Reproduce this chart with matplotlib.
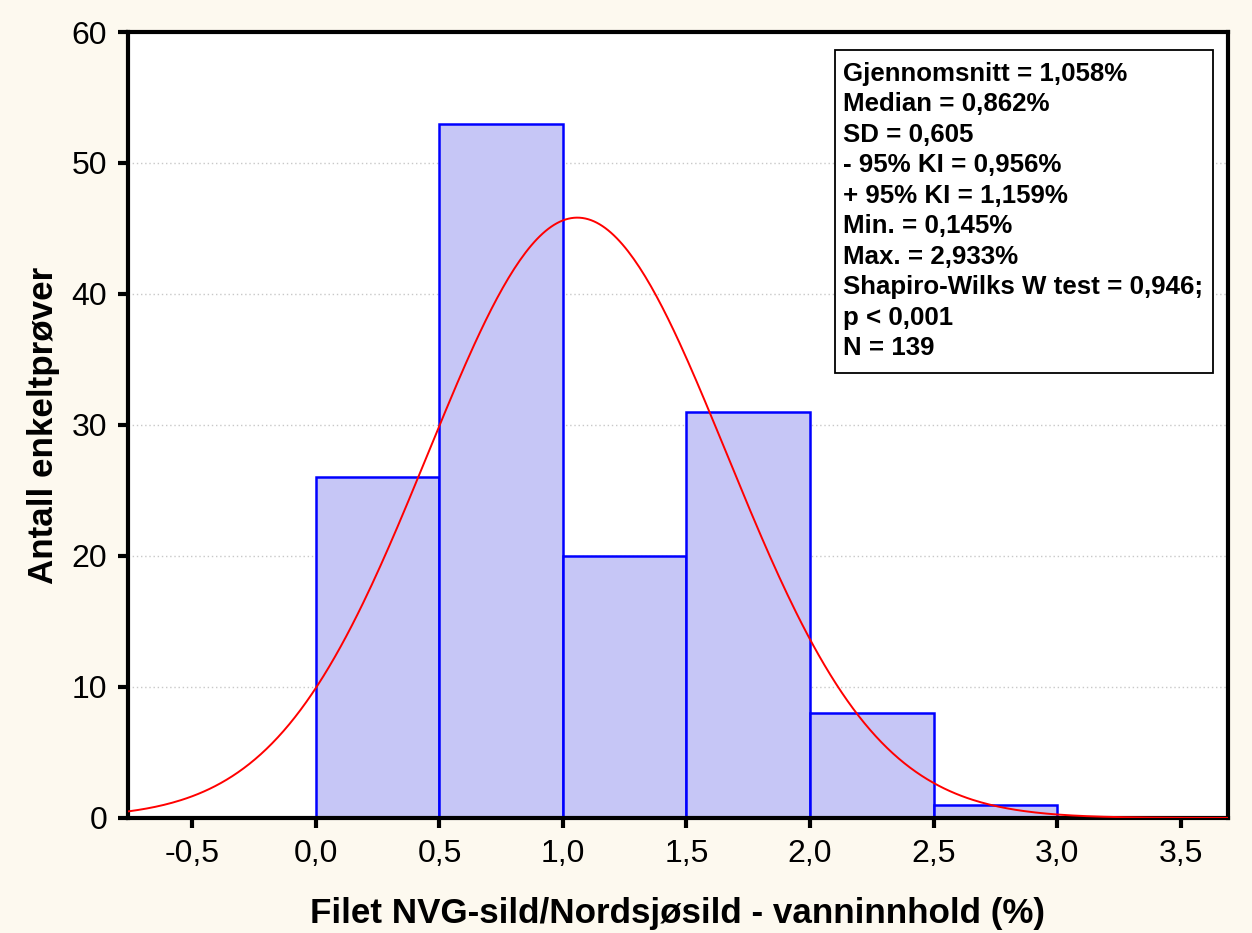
import numpy as np
import matplotlib.pyplot as plt
from matplotlib.patches import Rectangle

plt.rcParams['font.family'] = ['Liberation Sans', 'DejaVu Sans']

# histogram bins (vanninnhold %) and counts
bin_edges = [0.0, 0.5, 1.0, 1.5, 2.0, 2.5, 3.0]
counts = [26, 53, 20, 31, 8, 1]

# summary stats shown in the box
mean = 1.058
sd = 0.605
n = 139
stats_lines = [
    "Gjennomsnitt = 1,058%",
    "Median = 0,862%",
    "SD = 0,605",
    "- 95% KI = 0,956%",
    "+ 95% KI = 1,159%",
    "Min. = 0,145%",
    "Max. = 2,933%",
    "Shapiro-Wilks W test = 0,946;",
    "p < 0,001",
    "N = 139",
]
xticks = [-0.5, 0.0, 0.5, 1.0, 1.5, 2.0, 2.5, 3.0, 3.5]
yticks = [0, 10, 20, 30, 40, 50, 60]

fig = plt.figure(figsize=(12.52, 9.33), dpi=100, facecolor='#fdf9ef')
ax = fig.add_axes([0.1022, 0.1233, 0.8786, 0.8424])
ax.set_facecolor('white')

widths = np.diff(bin_edges)
ax.bar(bin_edges[:-1], counts, width=widths, align='edge',
       facecolor='#c6c6f6', edgecolor='#0000ff', linewidth=1.8, zorder=2)

# fitted normal curve scaled to counts
bw = widths[0]
x = np.linspace(-0.8, 3.8, 400)
y = n * bw * np.exp(-0.5 * ((x - mean) / sd) ** 2) / (sd * np.sqrt(2 * np.pi))
ax.plot(x, y, color='red', linewidth=1.4, zorder=3)

ax.set_xlim(-0.761, 3.692)
ax.set_ylim(0, 60)
ax.set_xticks(xticks)
ax.set_xticklabels([f"{t:.1f}".replace('.', ',') for t in xticks])
ax.set_yticks(yticks)
ax.yaxis.grid(True, linestyle=(0, (1, 2)), color='#c8c8c8', linewidth=1, zorder=0)
ax.set_axisbelow(True)

for s in ax.spines.values():
    s.set_linewidth(3)
ax.tick_params(axis='both', direction='out', length=7, width=3, labelsize=23, pad=8)

ax.set_xlabel("Filet NVG-sild/Nordsjøsild - vanninnhold (%)", fontsize=25.2,
              fontweight='bold', labelpad=20)
ax.set_ylabel("Antall enkeltprøver", fontsize=25.2, fontweight='bold', labelpad=8)

# stats box
ax.add_patch(Rectangle((0.6427, 0.566), 0.3437, 0.411, transform=ax.transAxes,
                       facecolor='white', edgecolor='black', linewidth=1.3, zorder=5))
ax.text(0.650, 0.962, "\n".join(stats_lines), transform=ax.transAxes,
        ha='left', va='top', fontsize=18.6, fontweight='bold', linespacing=1.34,
        zorder=6)

fig.savefig('out.png', dpi=100, facecolor=fig.get_facecolor())
